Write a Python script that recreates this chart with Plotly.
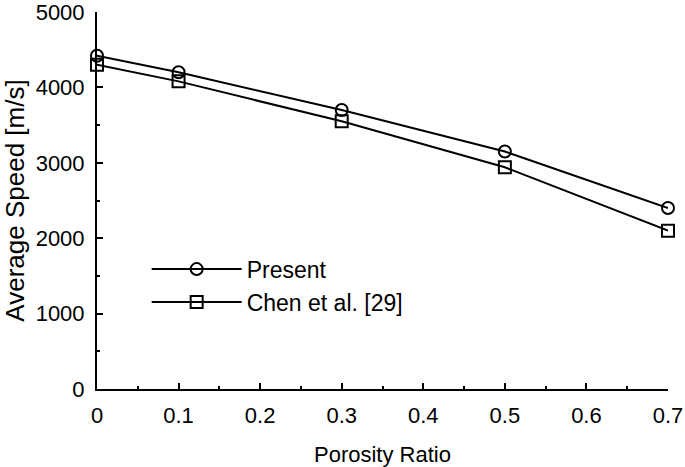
import plotly.graph_objects as go

porosity = [0, 0.1, 0.3, 0.5, 0.7]
present = [4420, 4200, 3700, 3150, 2400]
chen = [4300, 4080, 3550, 2940, 2100]
x_ticks = [0, 0.1, 0.2, 0.3, 0.4, 0.5, 0.6, 0.7]
x_tick_labels = ["0", "0.1", "0.2", "0.3", "0.4", "0.5", "0.6", "0.7"]
y_ticks = [0, 1000, 2000, 3000, 4000, 5000]

font = "Liberation Sans, Arial, sans-serif"
fig = go.Figure()
fig.add_trace(go.Scatter(x=porosity, y=present, name="Present", mode="lines+markers",
                         line=dict(color="black", width=2), cliponaxis=False,
                         marker=dict(symbol="circle-open", size=12, color="black", line=dict(width=2))))
fig.add_trace(go.Scatter(x=porosity, y=chen, name="Chen et al. [29]", mode="lines+markers",
                         line=dict(color="black", width=2), cliponaxis=False,
                         marker=dict(symbol="square-open", size=12, color="black", line=dict(width=2))))

fig.update_layout(
    width=685, height=467,
    margin=dict(l=97, r=17, t=12, b=78, autoexpand=False),
    plot_bgcolor="white", paper_bgcolor="white",
    font=dict(family=font, color="black"),
    legend=dict(x=0.087, y=0.375, xanchor="left", yanchor="top", itemwidth=90,
                font=dict(size=23), bgcolor="rgba(0,0,0,0)", tracegroupgap=0),
    xaxis=dict(range=[0, 0.7], tickvals=x_ticks, ticktext=x_tick_labels, automargin=False,
               showline=True, linecolor="black", linewidth=2, ticks="inside", ticklen=6,
               tickwidth=2, tickcolor="black", showgrid=False, zeroline=False,
               ticklabelstandoff=6, ticklabeloverflow="allow",
               tickfont=dict(size=22), title=dict(text="Porosity Ratio", font=dict(size=22), standoff=19),
               minor=dict(dtick=0.05, ticks="inside", ticklen=3, tickwidth=2, tickcolor="black")),
    yaxis=dict(range=[0, 5000], tickvals=y_ticks, automargin=False,
               showline=True, linecolor="black", linewidth=2, ticks="inside", ticklen=6,
               tickwidth=2, tickcolor="black", showgrid=False, zeroline=False,
               ticklabelstandoff=6, ticklabeloverflow="allow",
               tickfont=dict(size=22), title=dict(text="Average Speed [m/s]", font=dict(size=26), standoff=5),
               minor=dict(dtick=500, ticks="inside", ticklen=3, tickwidth=2, tickcolor="black")),
)
fig.write_html("out.html", config={"displayModeBar": False},
               post_script="document.body.style.margin='0';document.body.style.overflow='hidden';")
